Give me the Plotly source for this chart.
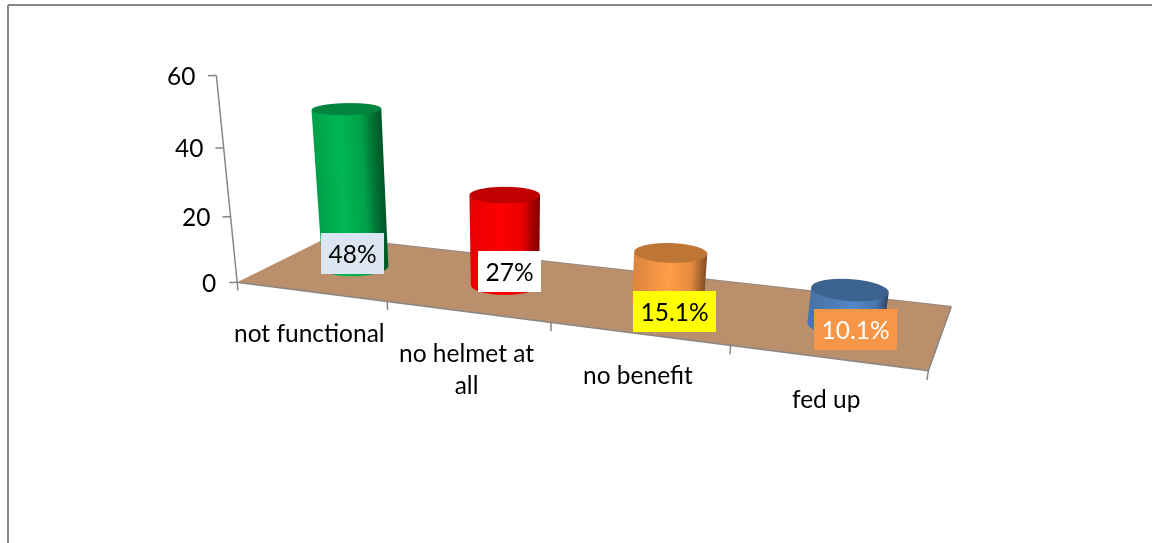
import math
import numpy as np
import plotly.graph_objects as go

categories = ["not functional", "no helmet at<br>all", "no benefit", "fed up"]
values = [48, 27, 15.1, 10.1]
value_labels = ["48%", "27%", "15.1%", "10.1%"]
tick_values = [0, 20, 40, 60]
bar_colors = [(0, 176, 80), (255, 0, 0), (247, 150, 70), (79, 129, 189)]
cap_colors = ["#00853e", "#c00000", "#bd7636", "#3c628f"]
label_fills = ["#dce6f2", "#ffffff", "#ffff00", "#f79646"]
label_inks = ["#000000", "#000000", "#000000", "#ffffff"]
label_shift_x = [-3, 4.5, 6.5, 10.5]
label_shift_y = [13.5, 13.5, -7.5, -4.5]
label_w = [63, 63, 83, 83]

W, H = 1152, 1092
CX = 513
FONT = "Lato"
FS = 24.5
GREY = "#868686"
FLOOR = "#b98f6c"

# world units per axis unit, fitted to the reference's perspective
ux, uy, uz = 0.434, 0.482, 0.51 / 60
xr, yr, zr = [-0.7, 3.7], [-0.5, 1.5], [-6, 66]
aspect = dict(x=(xr[1]-xr[0])*ux, y=(yr[1]-yr[0])*uy, z=(zr[1]-zr[0])*uz)
pitch, yaw = math.radians(28), math.radians(22)
F = np.array([-math.sin(yaw)*math.cos(pitch), math.cos(yaw)*math.cos(pitch), -math.sin(pitch)])
eye = np.array([1.044, -3.066, 0.745])
center = eye + 3.3 * F
R2 = (math.cos(yaw), math.sin(yaw))

fig = go.Figure()
LIGHT = dict(ambient=1, diffuse=0, specular=0, roughness=1, fresnel=0)


def flat(x, y, z, color):
    return go.Surface(x=x, y=y, z=z, surfacecolor=np.zeros_like(z),
                      colorscale=[[0, color], [1, color]], showscale=False,
                      lighting=LIGHT, hoverinfo="skip")


def line(x, y, z):
    return go.Scatter3d(x=x, y=y, z=z, mode="lines", hoverinfo="skip",
                        line=dict(color=GREY, width=3))


fig.add_trace(flat(np.array([[-.5, 3.5], [-.5, 3.5]]), np.array([[0., 0.], [1., 1.]]),
                   np.zeros((2, 2)), FLOOR))
fig.add_trace(line([3.5, -.5], [1, 1], [0, 0]))
fig.add_trace(line([-.5, 3.5, 3.5], [0, 0, 1], [0, 0, 0]))
for i in range(len(categories) + 1):
    fig.add_trace(line([i-.5, i-.5], [0, 0], [0, -2.5]))
fig.add_trace(line([-.5, -.5], [0, 0], [tick_values[0], tick_values[-1]]))
for t in tick_values:
    fig.add_trace(line([-.5, -.541], [0, -.02], [t, t]))

rx, ry = 0.088 / ux, 0.088 / uy
ang = np.linspace(0, 2*math.pi, 145)
factors = [(0, .5), (.1, .65), (.25, .92), (.56, 1.05), (1, .9)]
for i, (v, base, cap) in enumerate(zip(values, bar_colors, cap_colors)):
    cx = i + rx*np.cos(ang)
    cy = .5 + ry*np.sin(ang)
    X = np.vstack([cx, cx]); Y = np.vstack([cy, cy])
    Z = np.vstack([np.zeros_like(ang), np.full_like(ang, v)])
    # shade runs dark on the right of the visible side, bright left of centre
    t = -(np.cos(ang)*R2[0] + np.sin(ang)*R2[1])
    S = np.vstack([t, t])
    scale = [[p, "rgb(%d,%d,%d)" % tuple(min(255, int(c*f)) for c in base)] for p, f in factors]
    fig.add_trace(go.Surface(x=X, y=Y, z=Z, surfacecolor=S, cmin=-1, cmax=1, colorscale=scale,
                             showscale=False, lighting=LIGHT, hoverinfo="skip"))
    rad = np.linspace(0, 1, 2)[:, None]
    fig.add_trace(flat(i + rad*rx*np.cos(ang)[None, :], .5 + rad*ry*np.sin(ang)[None, :],
                       np.full((2, ang.size), float(v)), cap))

ann = []
for t in tick_values:
    ann.append(dict(x=-.5, y=0, z=t, text=str(t), showarrow=False, xanchor="right",
                    xshift=-19, font=dict(family=FONT, size=FS, color="#000")))
for i, c in enumerate(categories):
    ann.append(dict(x=i, y=0, z=0, text=c, showarrow=False, yanchor="top", yshift=-24,
                    xshift=-1, font=dict(family=FONT, size=FS, color="#000")))
for i, lab in enumerate(value_labels):
    ann.append(dict(x=i, y=.5, z=0, text=lab, showarrow=False, bgcolor=label_fills[i],
                    width=label_w[i], height=41, borderwidth=0, borderpad=0,
                    xshift=label_shift_x[i], yshift=label_shift_y[i],
                    font=dict(family=FONT, size=FS, color=label_inks[i])))

hidden = dict(visible=False, showspikes=False)
fig.update_layout(
    width=W, height=H, margin=dict(l=0, r=0, t=0, b=0), paper_bgcolor="white",
    showlegend=False, hovermode=False,
    shapes=[dict(type="line", xref="paper", yref="paper", x0=8/W, x1=1, y0=1-5/H, y1=1-5/H,
                 line=dict(color=GREY, width=2)),
            dict(type="line", xref="paper", yref="paper", x0=8/W, x1=8/W, y0=1-5/H, y1=0,
                 line=dict(color=GREY, width=2))],
    scene=dict(
        domain=dict(x=[0, 2*CX/W], y=[0, 1]),
        xaxis=dict(range=xr, **hidden), yaxis=dict(range=yr, **hidden), zaxis=dict(range=zr, **hidden),
        aspectmode="manual", aspectratio=aspect,
        camera=dict(eye=dict(x=eye[0], y=eye[1], z=eye[2]),
                    center=dict(x=center[0], y=center[1], z=center[2]),
                    up=dict(x=0, y=0, z=1), projection=dict(type="perspective")),
        annotations=ann),
)
fig.write_html("out.html", config=dict(displayModeBar=False),
               post_script="document.body.style.margin='0';document.documentElement.style.overflow='hidden';")
